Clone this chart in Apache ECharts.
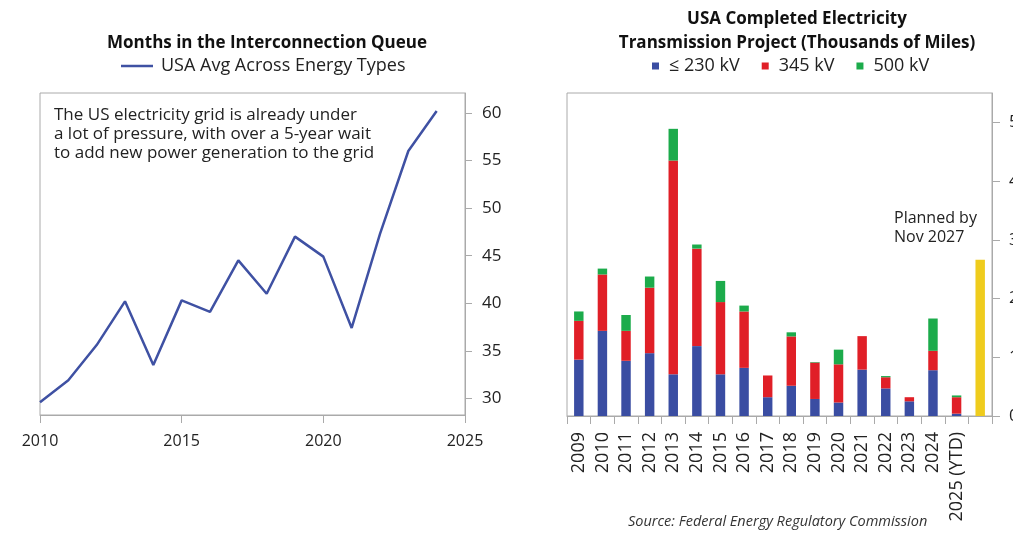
<!DOCTYPE html>
<html><head><meta charset="utf-8">
<script src="https://cdn.jsdelivr.net/npm/echarts@6/dist/echarts.min.js"></script>
<style>html,body{margin:0;padding:0;background:#fff}#c{width:1013px;height:540px}</style>
</head><body><div id="c"></div>
<script>
// Left chart: months in interconnection queue
const lineYears = [2010,2011,2012,2013,2014,2015,2016,2017,2018,2019,2020,2021,2022,2023,2024];
const lineValues = [29.6,31.9,35.6,40.2,33.5,40.3,39.1,44.5,41.0,47.0,44.9,37.4,47.3,56.0,60.2];
const leftYTicks = [30,35,40,45,50,55,60];

// Right chart: completed transmission (thousands of miles)
const barCats = ['2009','2010','2011','2012','2013','2014','2015','2016','2017','2018','2019','2020','2021','2022','2023','2024','2025 (YTD)',''];
const kv230 = [0.96,1.45,0.94,1.07,0.71,1.19,0.71,0.82,0.32,0.515,0.29,0.23,0.79,0.47,0.25,0.78,0.04,null];
const kv345 = [0.66,0.96,0.51,1.115,3.64,1.66,1.23,0.96,0.37,0.84,0.62,0.65,0.57,0.19,0.07,0.33,0.28,null];
const kv500 = [0.16,0.10,0.27,0.19,0.54,0.07,0.36,0.10,0,0.07,0.01,0.25,0,0.02,0,0.55,0.03,null];
const planned = [null,null,null,null,null,null,null,null,null,null,null,null,null,null,null,null,null,2.66];
const rightYTicks = [0,1,2,3,4,5];

const FONT = 'Open Sans';
const TXT = '#222';
const AX = '#aaa';

const chart = echarts.init(document.getElementById('c'));
chart.setOption({
  animation:false,
  textStyle:{fontFamily:FONT},
  title:[
    {text:'Months in the Interconnection Queue', left:262, top:26, textAlign:'center',
     textStyle:{fontFamily:FONT,fontWeight:'bold',fontSize:17,color:'#111',lineHeight:24}},
    {text:'USA Completed Electricity\nTransmission Project (Thousands of Miles)', left:792, top:2, textAlign:'center',
     textStyle:{fontFamily:FONT,fontWeight:'bold',fontSize:17,color:'#111',lineHeight:24}}
  ],
  legend:[
    {data:['USA Avg Across Energy Types'], left:116, top:52, icon:'rect', itemWidth:32, itemHeight:2.5, itemGap:8,
     textStyle:{fontFamily:FONT,fontSize:18,color:TXT,padding:[0,0,0,3]}},
    {data:['≤ 230 kV','345 kV','500 kV'], left:647, top:52, icon:'rect', itemWidth:7, itemHeight:7, itemGap:22,
     textStyle:{fontFamily:FONT,fontSize:18,color:TXT,padding:[0,0,0,5]}}
  ],
  grid:[
    {left:40, top:93, width:425, height:322, show:true, borderColor:AX, borderWidth:1, outerBoundsMode:'none'},
    {left:567, top:93, width:425, height:323, show:true, borderColor:AX, borderWidth:1, outerBoundsMode:'none'}
  ],
  xAxis:[
    {gridIndex:0, type:'value', min:2010, max:2025, interval:5,
     axisLine:{lineStyle:{color:AX}}, axisTick:{show:true,length:8,lineStyle:{color:AX}},
     axisLabel:{fontFamily:FONT,fontSize:16,color:TXT,margin:18,formatter:v=>String(v)}, splitLine:{show:false}},
    {gridIndex:1, type:'category', data:barCats,
     axisLine:{lineStyle:{color:AX}}, axisTick:{show:true,length:8,lineStyle:{color:AX}},
     axisLabel:{fontFamily:FONT,fontSize:18,color:TXT,rotate:90,margin:16,interval:0}}
  ],
  yAxis:[
    {gridIndex:0, type:'value', position:'right', min:28.25, max:62.1,
     axisLine:{show:true,lineStyle:{color:AX}},
     axisTick:{show:true,length:7,lineStyle:{color:AX},customValues:leftYTicks},
     axisLabel:{fontFamily:FONT,fontSize:17,color:TXT,margin:17,customValues:leftYTicks},
     splitLine:{show:false}},
    {gridIndex:1, type:'value', position:'right', min:0, max:5.5,
     axisLine:{show:true,lineStyle:{color:AX}},
     axisTick:{show:true,length:8,lineStyle:{color:AX},customValues:rightYTicks},
     axisLabel:{fontFamily:FONT,fontSize:17,color:TXT,margin:17,customValues:rightYTicks},
     splitLine:{show:false}}
  ],
  series:[
    {name:'USA Avg Across Energy Types', type:'line', xAxisIndex:0, yAxisIndex:0,
     data:lineYears.map((y,i)=>[y,lineValues[i]]), showSymbol:false, symbol:'none',
     lineStyle:{color:'#3f51a3',width:2.5}, itemStyle:{color:'#3f51a3'}},
    {name:'≤ 230 kV', type:'bar', stack:'t', xAxisIndex:1, yAxisIndex:1, data:kv230, barWidth:'40%', itemStyle:{color:'#3a4da2'}},
    {name:'345 kV', type:'bar', stack:'t', xAxisIndex:1, yAxisIndex:1, data:kv345, barWidth:'40%', itemStyle:{color:'#e01f27'}},
    {name:'500 kV', type:'bar', stack:'t', xAxisIndex:1, yAxisIndex:1, data:kv500, barWidth:'40%', itemStyle:{color:'#1cab4b'}},
    {name:'Planned', type:'bar', stack:'t', xAxisIndex:1, yAxisIndex:1, data:planned, barWidth:'40%', itemStyle:{color:'#efcc1d'}}
  ],
  graphic:[
    {type:'text', left:54, top:106, style:{text:'The US electricity grid is already under\na lot of pressure, with over a 5-year wait\nto add new power generation to the grid',
      fontFamily:FONT, fontSize:17, lineHeight:19, fill:TXT}},
    {type:'text', left:894, top:209, style:{text:'Planned by\nNov 2027', fontFamily:FONT, fontSize:16, lineHeight:19, fill:TXT}},
    {type:'text', left:628, top:514, style:{text:'Source: Federal Energy Regulatory Commission', fontFamily:FONT, fontStyle:'italic', fontSize:14.5, fill:'#333'}}
  ]
});
</script></body></html>
